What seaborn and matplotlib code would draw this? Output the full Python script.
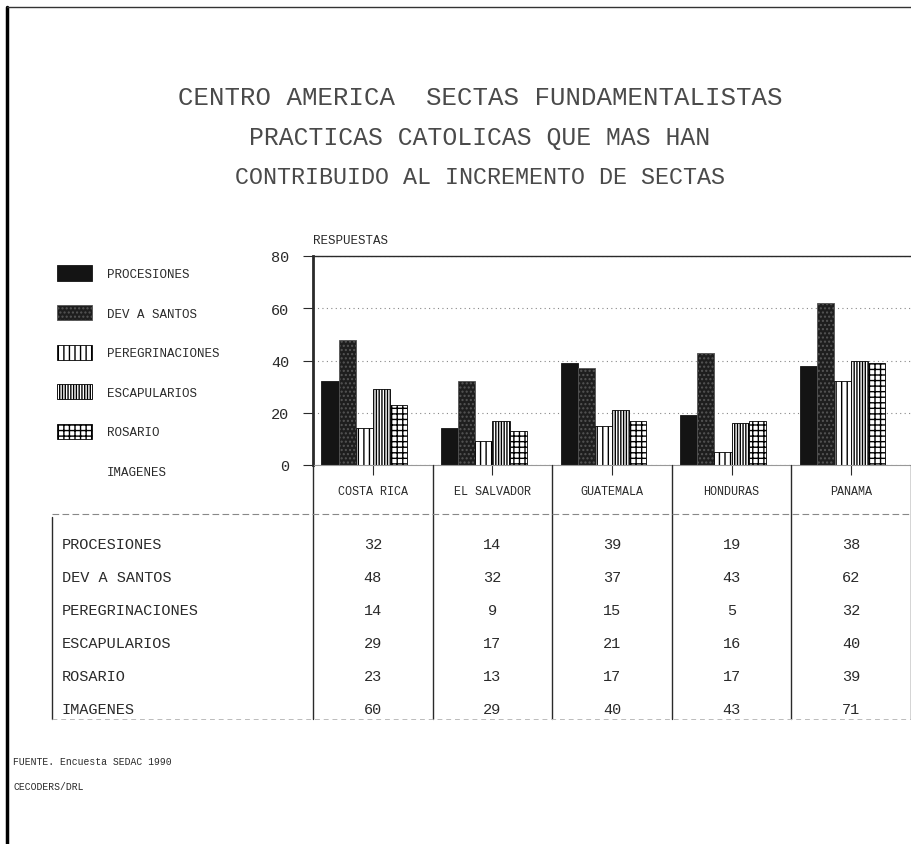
import pandas as pd
import matplotlib.pyplot as plt
import matplotlib.transforms as mtransforms
from matplotlib.lines import Line2D
import seaborn as sns

OUT_FILE = 'out.png'

# Datos
paises = ['COSTA RICA', 'EL SALVADOR', 'GUATEMALA', 'HONDURAS', 'PANAMA']
practicas = ['PROCESIONES', 'DEV A SANTOS', 'PEREGRINACIONES',
             'ESCAPULARIOS', 'ROSARIO', 'IMAGENES']
procesiones = [32, 14, 39, 19, 38]
dev_santos = [48, 32, 37, 43, 62]
peregrinaciones = [14, 9, 15, 5, 32]
escapularios = [29, 17, 21, 16, 40]
rosario = [23, 13, 17, 17, 39]
imagenes = [60, 29, 40, 43, 71]
y_ticks = [0, 20, 40, 60, 80]

titulo = ['CENTRO AMERICA  SECTAS FUNDAMENTALISTAS',
          'PRACTICAS CATOLICAS QUE MAS HAN',
          'CONTRIBUIDO AL INCREMENTO DE SECTAS']
fuente = ['FUENTE. Encuesta SEDAC 1990', 'CECODERS/DRL']

W, H = 911, 845
INK = '#2a2a2a'


def fy(py):
    # pixel row -> figure fraction
    return 1 - py / H


def make_chart():
    series = [procesiones, dev_santos, peregrinaciones, escapularios, rosario, imagenes]
    rows = []
    for name, vals in zip(practicas, series):
        for pais, v in zip(paises, vals):
            rows.append({'pais': pais, 'practica': name, 'valor': v})
    df = pd.DataFrame(rows)

    sns.set_theme(style='white')
    plt.rcParams['font.family'] = ['Liberation Mono', 'DejaVu Sans Mono']
    plt.rcParams['hatch.linewidth'] = 1.0

    fig = plt.figure(figsize=(W / 100, H / 100), dpi=100)
    ax = fig.add_axes([313 / W, fy(466), (W - 313) / W, (466 - 257) / H])

    pal = ['#141414', '#1e1e1e', 'white', 'white', 'white', 'white']
    sns.barplot(data=df, x='pais', y='valor', hue='practica', hue_order=practicas,
                order=paises, palette=pal, width=0.86, ax=ax, legend=False,
                saturation=1)

    styles = [
        dict(hatch=None, edgecolor='#141414'),
        dict(hatch='....', edgecolor='#555555'),
        dict(hatch='|||', edgecolor='black'),
        dict(hatch='||||||', edgecolor='black'),
        dict(hatch='+++', edgecolor='black'),
        dict(hatch=None, edgecolor='none'),
    ]
    for cont, st in zip(ax.containers, styles):
        for p in cont.patches:
            p.set_hatch(st['hatch'])
            p.set_edgecolor(st['edgecolor'])
            p.set_linewidth(0.6)
    for p in ax.containers[-1].patches:
        p.set_facecolor('none')

    ax.set_xlim(-0.5, len(paises) - 0.5)
    ax.set_ylim(0, 80)
    ax.set_yticks(y_ticks)
    ax.set_yticklabels([str(t) for t in y_ticks], fontsize=11, color=INK)
    ax.tick_params(axis='y', left=True, length=7, width=0.8, pad=10, colors=INK)
    ax.set_xticks(range(len(paises)))
    ax.set_xticklabels([])
    ax.tick_params(axis='x', bottom=True, length=7, width=0.8, colors=INK)
    ax.set_xlabel('')
    ax.set_ylabel('')
    ax.yaxis.grid(True, linestyle=(0, (1, 3)), color='#888888', linewidth=0.8)
    ax.set_axisbelow(True)
    for side in ['top', 'left']:
        ax.spines[side].set_color(INK)
    ax.spines['left'].set_linewidth(2.0)
    ax.spines['top'].set_linewidth(1.0)
    ax.spines['right'].set_visible(False)
    ax.spines['bottom'].set_color('#999999')
    ax.spines['bottom'].set_linewidth(0.8)

    ax.text(0, 1.05, 'RESPUESTAS', transform=ax.transAxes, fontsize=9, color=INK,
            ha='left', va='bottom')

    # titulo
    title_sizes = [18.5, 17.8, 16.8]
    for i, line in enumerate(titulo):
        fig.text(480 / W, fy(98 + 40 * i), line, ha='center', va='center',
                 fontsize=title_sizes[i], color='#4a4a4a')

    # tabla bajo el grafico
    tr = mtransforms.blended_transform_factory(ax.transData, fig.transFigure)
    for i, pais in enumerate(paises):
        fig.text(i, fy(492), pais, transform=tr, ha='center', va='center',
                 fontsize=8.5, color=INK)
        fig.add_artist(Line2D([i + 0.5, i + 0.5], [fy(466), fy(720)], transform=tr,
                              color=INK, linewidth=1.0))
    fig.add_artist(Line2D([-0.5, -0.5], [fy(466), fy(720)], transform=tr,
                          color=INK, linewidth=1.0))
    fig.add_artist(Line2D([52 / W, 1], [fy(515), fy(515)], color='#888888',
                          linewidth=0.8, linestyle=(0, (6, 3))))
    fig.add_artist(Line2D([52 / W, 52 / W], [fy(518), fy(720)], color=INK,
                          linewidth=1.0))
    fig.add_artist(Line2D([52 / W, 1], [fy(720), fy(720)], color='#bbbbbb',
                          linewidth=0.7, linestyle=(0, (5, 4))))

    for r, (name, vals) in enumerate(zip(practicas, series)):
        ypos = fy(545 + 33 * r)
        fig.text(62 / W, ypos, name, ha='left', va='center', fontsize=11, color=INK)
        for i, v in enumerate(vals):
            fig.text(i, ypos, str(v), transform=tr, ha='center', va='center',
                     fontsize=11, color=INK)

    # leyenda
    fig.legend(handles=list(ax.containers), labels=practicas, loc='upper left',
               bbox_to_anchor=(46 / W, fy(255)), frameon=False, fontsize=9,
               handlelength=2.8, handleheight=1.5, labelspacing=1.95,
               handletextpad=1.2, labelcolor=INK)

    # fuente
    for i, line in enumerate(fuente):
        fig.text(13 / W, fy(762 + 25 * i), line, ha='left', va='center',
                 fontsize=7, color=INK)

    # marco del documento
    fig.add_artist(Line2D([7 / W, 7 / W], [0, fy(8)], color='black', linewidth=2.5))
    fig.add_artist(Line2D([7 / W, 1], [fy(8), fy(8)], color='#333333', linewidth=1.0))

    fig.savefig(OUT_FILE, dpi=100)
    plt.close(fig)


if __name__ == '__main__':
    make_chart()
